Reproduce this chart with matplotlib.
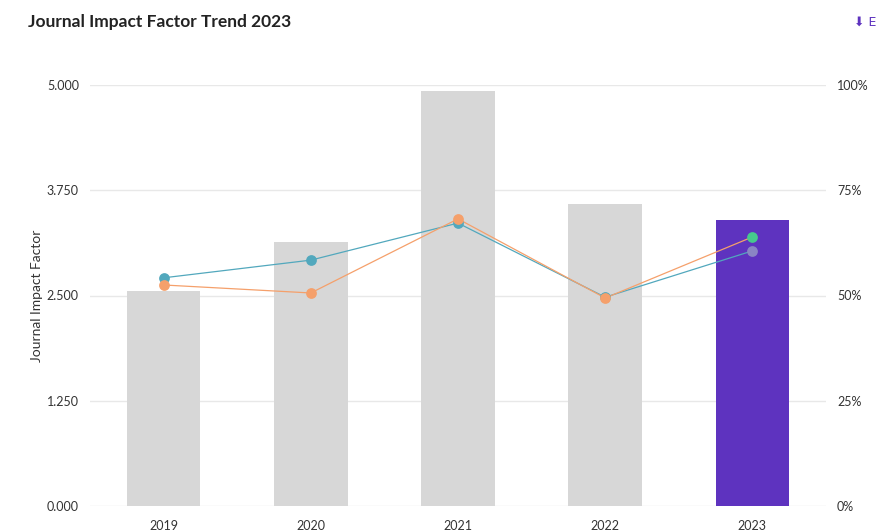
import matplotlib
matplotlib.use("Agg")
import matplotlib.pyplot as plt

plt.rcParams['font.family'] = ['Lato', 'DejaVu Sans']

years = ["2019", "2020", "2021", "2022", "2023"]
jif = [2.553, 3.135, 4.929, 3.587, 3.397]
series_teal = [54.2, 58.4, 67.2, 49.6, 60.6]
series_orange = [52.5, 50.6, 68.2, 49.4, 63.9]
left_ticks = [0, 1.25, 2.5, 3.75, 5.0]
left_labels = ["0.000", "1.250", "2.500", "3.750", "5.000"]
right_ticks = [0, 25, 50, 75, 100]
right_labels = ["0%", "25%", "50%", "75%", "100%"]

bar_grey = "#d7d7d7"
bar_hi = "#5e33bf"
teal = "#52a8bd"
orange = "#f5a06b"
text_c = "#333333"

fig = plt.figure(figsize=(8.78, 5.32), dpi=100)
ax = fig.add_axes([90/878, 26/532, 736/878, 421/532])
x = list(range(len(years)))
colors = [bar_grey]*(len(years)-1) + [bar_hi]
ax.bar(x, jif, width=0.5, color=colors, zorder=2)
ax.set_xlim(-0.5, len(years)-0.5)
ax.set_ylim(0, 5)
ax.set_yticks(left_ticks)
ax.set_yticklabels(left_labels)
ax.set_xticks(x)
ax.set_xticklabels(years)
ax.grid(axis='y', color="#e8e8e8", linewidth=1, zorder=0)
ax.set_axisbelow(True)
for s in ax.spines.values():
    s.set_visible(False)
ax.tick_params(axis='both', length=0, labelsize=9, colors=text_c, pad=8)
ax.tick_params(axis='x', pad=10)
ax.set_ylabel("Journal Impact Factor", fontsize=10, color=text_c, labelpad=3)

ax2 = ax.twinx()
ax2.set_ylim(0, 100)
ax2.set_yticks(right_ticks)
ax2.set_yticklabels(right_labels)
for s in ax2.spines.values():
    s.set_visible(False)
ax2.tick_params(axis='y', length=0, labelsize=9, colors=text_c, pad=8)

ax2.plot(x, series_teal, color=teal, linewidth=0.9, zorder=3)
ax2.plot(x, series_orange, color=orange, linewidth=0.9, zorder=3)
ax2.scatter(x[:-1], series_teal[:-1], s=60, color=teal, zorder=4, linewidths=0)
ax2.scatter(x[:-1], series_orange[:-1], s=60, color=orange, zorder=4, linewidths=0)
ax2.scatter([x[-1]], [series_teal[-1]], s=60, color="#8a85c4", zorder=4, linewidths=0)
ax2.scatter([x[-1]], [series_orange[-1]], s=60, color="#46c88d", zorder=4, linewidths=0)

fig.text(28/878, 1 - 22/532, "Journal Impact Factor Trend 2023", fontsize=12.5,
         fontweight='bold', color="#222222", va='center', ha='left')
fig.text(876/878, 1 - 22/532, "⬇ E", fontsize=9, color="#5e33bf",
         va='center', ha='right', family=['DejaVu Sans'])

fig.savefig("out.png", dpi=100)
